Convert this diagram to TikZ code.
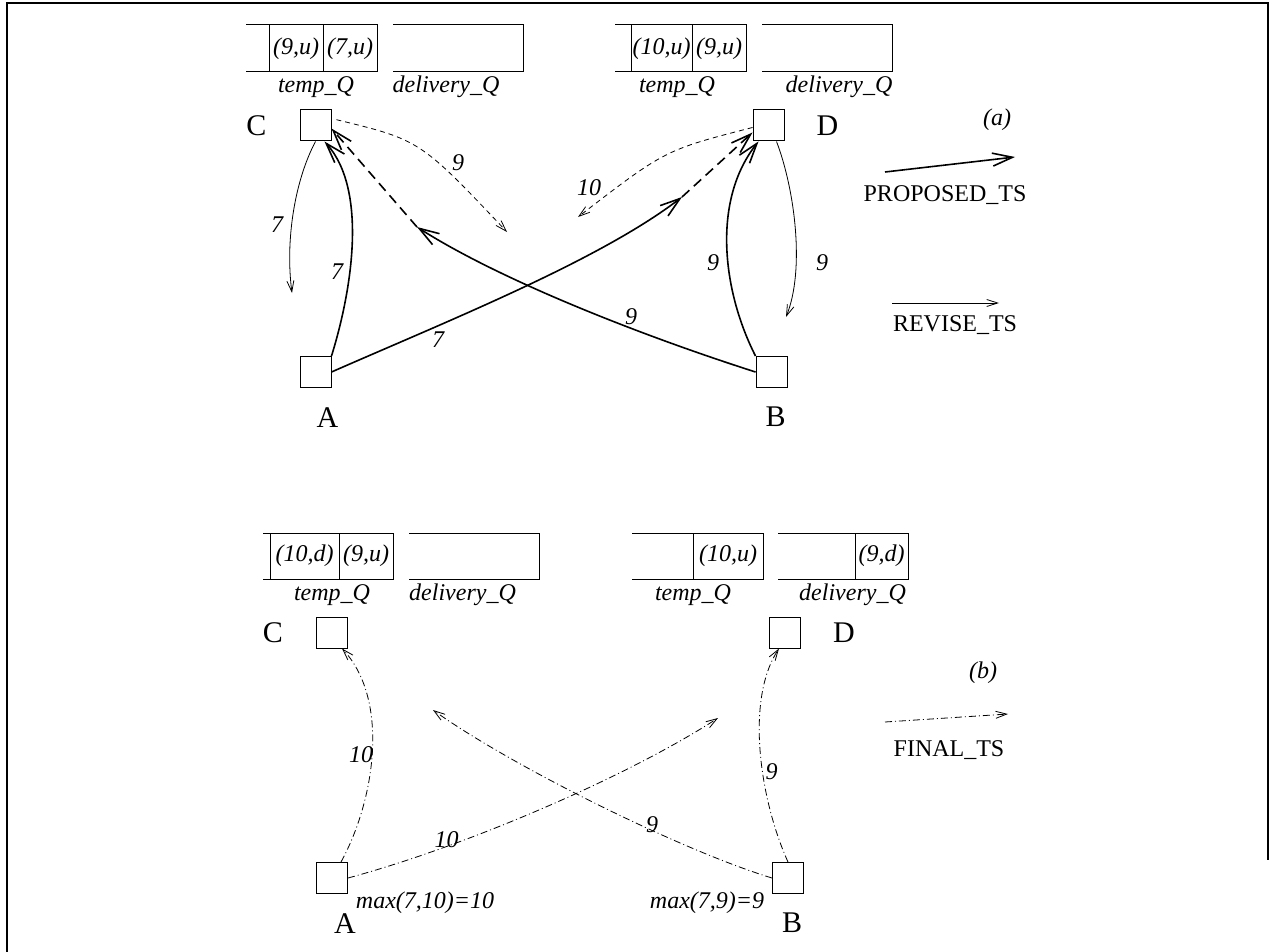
\documentclass[tikz,border=0pt]{standalone}
\usepackage{fontspec}
\setmainfont{Liberation Serif}
\usepackage{tikz}
\usetikzlibrary{arrows.meta, positioning}

\begin{document}
\begin{tikzpicture}[
        x=1pt, y=-1pt,
        station/.style={rectangle, draw, line width=1pt, minimum size=31pt, inner sep=0pt},
        letter/.style={inner sep=0pt, font=\fontsize{30}{36}\selectfont},
        lbl/.style={inner sep=0pt, font=\fontsize{24}{28}\selectfont\itshape},
        legend/.style={inner sep=0pt, font=\fontsize{24}{28}\selectfont},
        queue/.style={line width=1pt},
        proposed/.style={-{Straight Barb[length=20pt, width=13pt]}, line width=1.6pt},
        propdash/.style={proposed, dash pattern=on 10pt off 6pt},
        revise/.style={-{Straight Barb[length=11pt, width=7pt]}, line width=0.8pt},
        revdash/.style={revise, dash pattern=on 5pt off 4pt},
        final/.style={-{Straight Barb[length=11pt, width=7pt]}, line width=0.8pt, dash pattern=on 7pt off 3pt on 1pt off 3pt}
    ]
        \useasboundingbox (0,0) rectangle (1271,952);
        \draw[line width=2.5pt] (7,952) -- (7,3) -- (1268,3) -- (1268,860);

        \draw[queue] (246,25) -| (377,72) -- (246,72);
        \draw[queue] (269,25) -- (269,72) (323,25) -- (323,72);
        \draw[queue] (393,25) -| (523,72) -- (393,72);
        \node[lbl] (Ca-c1) at (296,48.5) {(9,u)};
        \node[lbl] (Ca-c2) at (350,48.5) {(7,u)};
        \node[lbl] (Ca-tq) at (316,87) {temp\_Q};
        \node[lbl] (Ca-dq) at (446,87) {delivery\_Q};

        \draw[queue] (615,25) -| (746,72) -- (615,72);
        \draw[queue] (631,25) -- (631,72) (692,25) -- (692,72);
        \draw[queue] (762,25) -| (892,72) -- (762,72);
        \node[lbl] (Da-c1) at (661.5,48.5) {(10,u)};
        \node[lbl] (Da-c2) at (719,48.5) {(9,u)};
        \node[lbl] (Da-tq) at (677,87) {temp\_Q};
        \node[lbl] (Da-dq) at (839,87) {delivery\_Q};

        \node[station] (Ca) at (315.5,125.5) {};
        \node[station] (Da) at (768.5,125.5) {};
        \node[station] (Aa) at (315.5,372) {};
        \node[station] (Ba) at (771.5,372) {};
        \node[letter, left=33pt of Ca] (Ca-name) {C};
        \node[letter, right=32pt of Da] (Da-name) {D};
        \node[letter, below=19pt of Aa, xshift=12pt] (Aa-name) {A};
        \node[letter, below=19pt of Ba, xshift=4pt] (Ba-name) {B};

        \coordinate (Ca-out) at (292,293);
        \coordinate (Da-out) at (786,317);
        \coordinate (Ca-rev) at (507,232);
        \coordinate (Da-rev) at (578,217);
        \coordinate (Aa-mid) at (682,197);
        \coordinate (Ba-mid) at (417,227);

        \draw[proposed] (Aa.north east) .. controls (352,290) and (368,190) .. ([xshift=9pt]Ca.south);
        \draw[proposed] (Ba.north west) .. controls (722,290) and (712,200) .. ([xshift=-10pt]Da.south);
        \draw[proposed] (Aa.east) .. controls (450,320) and (600,260) .. (Aa-mid);
        \draw[propdash] (Aa-mid) -- ([yshift=-7pt]Da.west);
        \draw[proposed] (Ba.west) .. controls (640,335) and (500,280) .. (Ba-mid);
        \draw[propdash] (Ba-mid) -- ([yshift=-3pt]Ca.east);
        \draw[revise] (Ca.south) .. controls (295,180) and (285,240) .. (Ca-out);
        \draw[revise] ([xshift=8pt]Da.south) .. controls (795,190) and (805,270) .. (Da-out);
        \draw[revdash, shorten <=5pt] ([yshift=7pt]Ca.east) .. controls (420,140) .. (Ca-rev);
        \draw[revdash] ([yshift=-2pt]Da.west) .. controls (665,150) .. (Da-rev);

        \node[lbl] (Ca-l1) at (277,225) {7};
        \node[lbl] (Aa-l1) at (337,272) {7};
        \node[lbl] (Ca-l2) at (458,163) {9};
        \node[lbl] (Da-l1) at (589,188) {10};
        \node[lbl] (Ba-l1) at (713,263) {9};
        \node[lbl] (Da-l2) at (822,263) {9};
        \node[lbl] (Aa-l2) at (438,340) {7};
        \node[lbl] (Ba-l2) at (631,317) {9};

        \node[lbl] (tag-a) at (997,120) {(a)};
        \coordinate (prop-s) at (885,172);
        \coordinate (prop-e) at (1015,157);
        \draw[proposed] (prop-s) -- (prop-e);
        \node[legend] (prop-lbl) at (945,195) {PROPOSED\_TS};
        \coordinate (rev-s) at (892,303);
        \coordinate (rev-e) at (999,303);
        \draw[revise] (rev-s) -- (rev-e);
        \node[legend] (rev-lbl) at (955,325) {REVISE\_TS};

        \draw[queue] (263,533) -| (393,579) -- (263,579);
        \draw[queue] (270,533) -- (270,579) (339,533) -- (339,579);
        \draw[queue] (409,533) -| (539,579) -- (409,579);
        \node[lbl] (Cb-c1) at (304.5,556) {(10,d)};
        \node[lbl] (Cb-c2) at (366,556) {(9,u)};
        \node[lbl] (Cb-tq) at (332,595) {temp\_Q};
        \node[lbl] (Cb-dq) at (462.5,595) {delivery\_Q};

        \draw[queue] (632,533) -| (763,579) -- (632,579);
        \draw[queue] (693,533) -- (693,579);
        \draw[queue] (778,533) -| (908,579) -- (778,579);
        \draw[queue] (855,533) -- (855,579);
        \node[lbl] (Db-c1) at (728,556) {(10,u)};
        \node[lbl] (Db-d1) at (881.5,556) {(9,d)};
        \node[lbl] (Db-tq) at (693,595) {temp\_Q};
        \node[lbl] (Db-dq) at (852.5,595) {delivery\_Q};

        \node[station] (Cb) at (332,632.5) {};
        \node[station] (Db) at (785,632.5) {};
        \node[station] (Ab) at (332,878) {};
        \node[station] (Bb) at (788,878) {};
        \node[letter, left=33pt of Cb] (Cb-name) {C};
        \node[letter, right=32pt of Db] (Db-name) {D};
        \node[letter, below=19pt of Ab, xshift=13pt] (Ab-name) {A};
        \node[letter, below=19pt of Bb, xshift=4pt] (Bb-name) {B};

        \coordinate (Ab-end) at (718,718);
        \coordinate (Bb-end) at (433,710);

        \draw[final] ([xshift=9pt]Ab.north) .. controls (375,800) and (390,700) .. ([xshift=10pt]Cb.south);
        \draw[final] (Bb.north) .. controls (760,800) and (745,700) .. ([xshift=-6pt]Db.south);
        \draw[final] (Ab.east) .. controls (470,845) and (630,775) .. (Ab-end);
        \draw[final] (Bb.west) .. controls (680,850) and (510,765) .. (Bb-end);

        \node[lbl] (Ab-l1) at (361,755) {10};
        \node[lbl] (Bb-l1) at (771.5,772) {9};
        \node[lbl] (Ab-l2) at (446.5,840) {10};
        \node[lbl] (Bb-l2) at (652,825) {9};
        \node[lbl] (Ab-max) at (425,903) {max(7,10)=10};
        \node[lbl] (Bb-max) at (707,903) {max(7,9)=9};

        \node[lbl] (tag-b) at (983,673) {(b)};
        \coordinate (fin-s) at (885,722);
        \coordinate (fin-e) at (1008,714);
        \draw[final] (fin-s) -- (fin-e);
        \node[legend] (fin-lbl) at (949,750) {FINAL\_TS};
    \end{tikzpicture}
\end{document}
